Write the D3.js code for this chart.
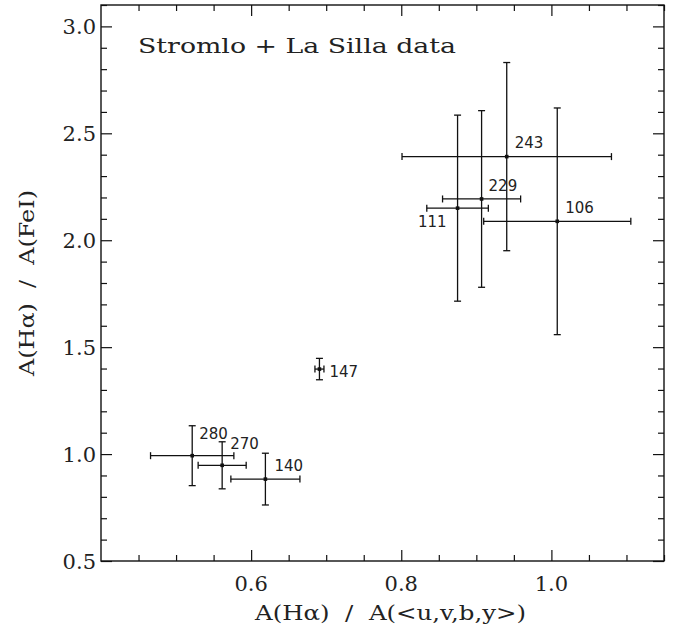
<!DOCTYPE html>
<html>
<head>
<meta charset="utf-8">
<script src="https://cdn.jsdelivr.net/npm/d3@7"></script>
<style>
  html, body { margin: 0; padding: 0; background: #fff; }
  svg { display: block; }
</style>
</head>
<body>
<svg id="chart" width="674" height="635"></svg>
<script>
// Star identifiers and measured extinction ratios with 1-sigma errors
const ids   = ["280", "270", "140", "147", "111", "229", "243", "106"];
const xVals = [0.5215, 0.5614, 0.619, 0.691, 0.875, 0.907, 0.9405, 1.0078];
const xErrs = [0.0555, 0.032, 0.046, 0.006, 0.041, 0.052, 0.1395, 0.098];
const yVals = [0.9925, 0.9475, 0.883, 1.3975, 2.150, 2.193, 2.391, 2.0885];
const yErrs = [0.140, 0.110, 0.121, 0.050, 0.435, 0.413, 0.440, 0.530];

// Axis ticks
const xMajor = [0.6, 0.8, 1.0];
const xTickLabels = ["0.6", "0.8", "1.0"];
const yMajor = [0.5, 1.0, 1.5, 2.0, 2.5, 3.0];
const yTickLabels = ["0.5", "1.0", "1.5", "2.0", "2.5", "3.0"];

const xTitle = "A(Hα)  /  A(<u,v,b,y>)";
const yTitle = "A(Hα)  /  A(FeI)";
const note = "Stromlo + La Silla data";

// Label placement around each point: [dx, dy, anchor]
const labelPlacement = {
  "280": [7, -17, "start"],
  "270": [8, -16, "start"],
  "140": [9, -8, "start"],
  "147": [10, 8, "start"],
  "111": [-11, 19, "end"],
  "229": [7, -8, "start"],
  "243": [8, -9, "start"],
  "106": [8, -8, "start"]
};

const box = { left: 101, right: 664, top: 5, bottom: 561 };
const svg = d3.select("#chart");

const x = d3.scaleLinear().domain([0.4, 1.15]).range([box.left, box.right]);
const y = d3.scaleLinear().domain([0.5, 3.1]).range([box.bottom, box.top]);

const ink = "#111";
const textInk = "#222";
const serif = "'DejaVu Serif', serif";
const sans = "'DejaVu Sans', sans-serif";

// Minor ticks every 0.05 in x, 0.1 in y
const xMinor = d3.range(0.45, 1.1501, 0.05).filter(v => !xMajor.some(m => Math.abs(m - v) < 1e-6));
const yMinor = d3.range(0.6, 3.1001, 0.1).filter(v => !yMajor.some(m => Math.abs(m - v) < 1e-6));

const frame = svg.append("g");

function tickAxis(axisGen, transform) {
  const g = frame.append("g").attr("transform", transform).call(axisGen);
  g.select(".domain").remove();
  g.selectAll("line").attr("stroke", ink).attr("stroke-width", 1.2);
  g.selectAll("text").remove();
  return g;
}

// bottom / top
tickAxis(d3.axisTop(x).tickValues(xMajor).tickSize(11), `translate(0,${box.bottom})`);
tickAxis(d3.axisTop(x).tickValues(xMinor).tickSize(6), `translate(0,${box.bottom})`);
tickAxis(d3.axisBottom(x).tickValues(xMajor).tickSize(11), `translate(0,${box.top})`);
tickAxis(d3.axisBottom(x).tickValues(xMinor).tickSize(6), `translate(0,${box.top})`);
// left / right
tickAxis(d3.axisRight(y).tickValues(yMajor).tickSize(11), `translate(${box.left},0)`);
tickAxis(d3.axisRight(y).tickValues(yMinor).tickSize(6), `translate(${box.left},0)`);
tickAxis(d3.axisLeft(y).tickValues(yMajor).tickSize(11), `translate(${box.right},0)`);
tickAxis(d3.axisLeft(y).tickValues(yMinor).tickSize(6), `translate(${box.right},0)`);

frame.append("rect")
  .attr("x", box.left).attr("y", box.top)
  .attr("width", box.right - box.left).attr("height", box.bottom - box.top)
  .attr("fill", "none").attr("stroke", ink).attr("stroke-width", 1.4);

// Tick labels
const tickFont = 21;
svg.append("g").selectAll("text").data(xMajor).join("text")
  .attr("x", d => x(d)).attr("y", box.bottom + 30)
  .attr("text-anchor", "middle")
  .attr("font-family", serif).attr("font-size", tickFont).attr("fill", textInk)
  .text((d, i) => xTickLabels[i]);

svg.append("g").selectAll("text").data(yMajor).join("text")
  .attr("x", box.left - 5).attr("y", d => y(d)).attr("dy", "0.36em")
  .attr("text-anchor", "end")
  .attr("font-family", serif).attr("font-size", tickFont).attr("fill", textInk)
  .text((d, i) => yTickLabels[i]);

// Axis titles
svg.append("text")
  .attr("x", 255).attr("y", 620)
  .attr("font-family", serif).attr("font-size", 21).attr("fill", textInk)
  .attr("xml:space", "preserve")
  .attr("textLength", 271).attr("lengthAdjust", "spacingAndGlyphs")
  .text(xTitle);

svg.append("text")
  .attr("transform", `translate(34,376) rotate(-90)`)
  .attr("font-family", serif).attr("font-size", 21).attr("fill", textInk)
  .attr("xml:space", "preserve")
  .attr("textLength", 186).attr("lengthAdjust", "spacingAndGlyphs")
  .text(yTitle);

// Annotation
svg.append("text")
  .attr("x", 138).attr("y", 53)
  .attr("font-family", serif).attr("font-size", 21).attr("fill", textInk)
  .attr("textLength", 318).attr("lengthAdjust", "spacingAndGlyphs")
  .text(note);

// Error bars
const pts = ids.map((id, i) => ({ id, x: xVals[i], y: yVals[i], ex: xErrs[i], ey: yErrs[i] }));
const cap = 3.5;
const bars = svg.append("g").attr("stroke", ink).attr("stroke-width", 1.3).attr("fill", "none");
pts.forEach(p => {
  const cx = x(p.x), cy = y(p.y);
  const x0 = x(p.x - p.ex), x1 = x(p.x + p.ex);
  const y0 = y(p.y - p.ey), y1 = y(p.y + p.ey);
  bars.append("line").attr("x1", x0).attr("x2", x1).attr("y1", cy).attr("y2", cy);
  bars.append("line").attr("x1", x0).attr("x2", x0).attr("y1", cy - cap).attr("y2", cy + cap);
  bars.append("line").attr("x1", x1).attr("x2", x1).attr("y1", cy - cap).attr("y2", cy + cap);
  bars.append("line").attr("x1", cx).attr("x2", cx).attr("y1", y0).attr("y2", y1);
  bars.append("line").attr("x1", cx - cap).attr("x2", cx + cap).attr("y1", y0).attr("y2", y0);
  bars.append("line").attr("x1", cx - cap).attr("x2", cx + cap).attr("y1", y1).attr("y2", y1);
});

// Point markers
svg.append("g").selectAll("rect").data(pts).join("rect")
  .attr("x", d => x(d.x) - 1.8).attr("y", d => y(d.y) - 1.8)
  .attr("width", 3.6).attr("height", 3.6).attr("fill", ink);

// Star labels
svg.append("g").selectAll("text").data(pts).join("text")
  .attr("x", d => x(d.x) + labelPlacement[d.id][0])
  .attr("y", d => y(d.y) + labelPlacement[d.id][1])
  .attr("text-anchor", d => labelPlacement[d.id][2])
  .attr("font-family", sans).attr("font-size", 15).attr("fill", textInk)
  .text(d => d.id);
</script>
</body>
</html>
